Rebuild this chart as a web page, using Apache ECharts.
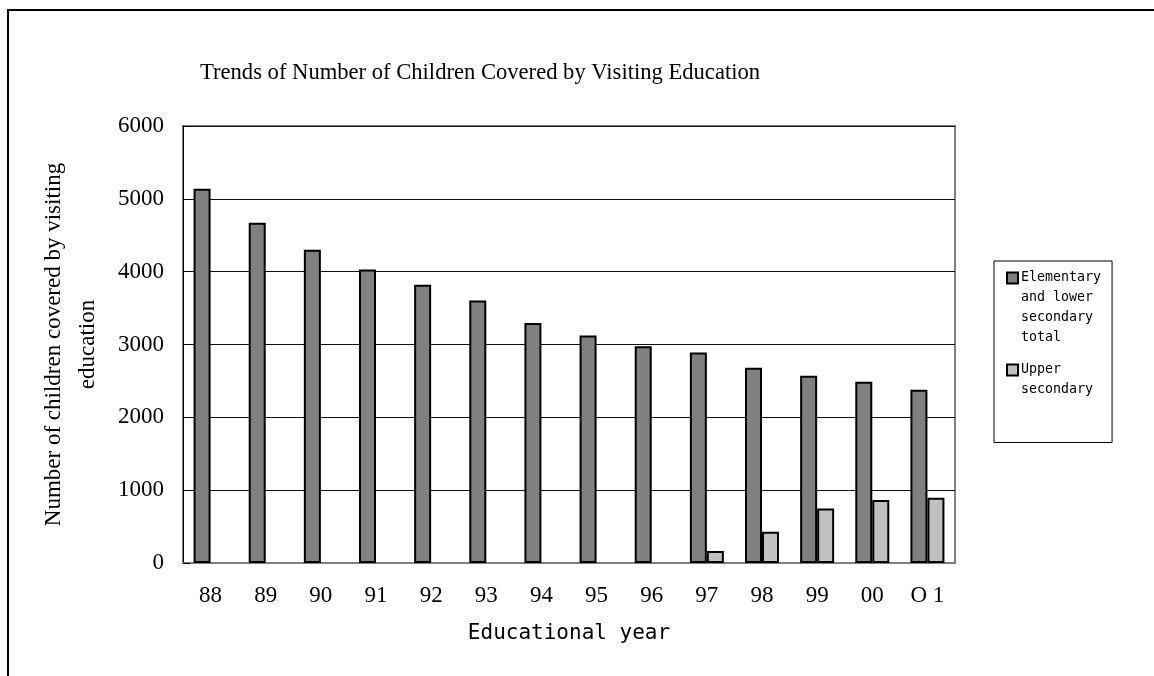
<!DOCTYPE html>
<html>
<head>
<meta charset="utf-8">
<script src="https://cdn.jsdelivr.net/npm/echarts@6/dist/echarts.min.js"></script>
<style>
  html, body { margin: 0; padding: 0; background: #fff; }
  #chart { width: 1154px; height: 676px; }
</style>
</head>
<body>
<div id="chart"></div>
<script>
// School years (two-digit) on the category axis
const years = ['88', '89', '90', '91', '92', '93', '94', '95', '96', '97', '98', '99', '00', 'O 1'];

// Children covered by visiting education, per school level
const elementaryLowerTotal = [5140, 4670, 4300, 4030, 3820, 3605, 3295, 3125, 2975, 2890, 2680, 2570, 2490, 2380];
const upperSecondary = [null, null, null, null, null, null, null, null, null, 165, 430, 750, 865, 895];

const seriesNames = ['Elementary and lower secondary total', 'Upper secondary'];
const yTicks = { min: 0, max: 6000, interval: 1000 };

const serif = '"Liberation Serif", "Times New Roman", serif';
const mono = '"DejaVu Sans Mono", "Liberation Mono", monospace';

const chart = echarts.init(document.getElementById('chart'), null, { renderer: 'canvas' });

const legendBox = (fill) => ({
  width: 9, height: 9, lineHeight: 20,
  backgroundColor: fill, borderColor: '#000', borderWidth: 2
});
const legendText = { fontFamily: mono, fontSize: 13.3, lineHeight: 20, color: '#000' };

chart.setOption({
  animation: false,
  backgroundColor: '#fff',
  graphic: [{
    type: 'rect',
    shape: { x: 8, y: 10, width: 1200, height: 720 },
    style: { fill: 'none', stroke: '#000', lineWidth: 2 },
    silent: true
  }],
  title: {
    text: 'Trends of Number of Children Covered by Visiting Education',
    left: 200,
    top: 62,
    padding: 0,
    textStyle: { fontFamily: serif, fontSize: 22.6, fontWeight: 'normal', color: '#000' }
  },
  grid: {
    left: 183, right: 199, top: 126, bottom: 113,
    show: true, borderColor: '#808080', borderWidth: 2, backgroundColor: '#fff'
  },
  legend: {
    orient: 'vertical',
    left: 994, top: 261,
    padding: [10.5, 11, 46, 9],
    itemGap: 19,
    itemWidth: 0, itemHeight: 10,
    selectedMode: false,
    borderColor: '#000', borderWidth: 1,
    itemStyle: { color: 'rgba(0,0,0,0)', borderWidth: 0, opacity: 0 },
    data: seriesNames,
    formatter: (name) => name === seriesNames[0]
      ? '{b1|}{sp|}{t|Elementary}\n{ind|}{t|and lower}\n{ind|}{t|secondary}\n{ind|}{t|total}'
      : '{b2|}{sp|}{t|Upper}\n{ind|}{t|secondary}',
    textStyle: {
      rich: {
        b1: legendBox('#808080'),
        b2: legendBox('#c0c0c0'),
        sp: { width: 4, lineHeight: 20 },
        ind: { width: 13, lineHeight: 20 },
        t: legendText
      }
    }
  },
  xAxis: {
    type: 'category',
    data: years,
    name: 'Educational year',
    nameLocation: 'middle',
    nameGap: 60,
    nameTextStyle: { fontFamily: mono, fontSize: 21, color: '#000' },
    axisLine: { lineStyle: { color: '#808080', width: 2 } },
    axisTick: { inside: true, length: 6, lineStyle: { color: '#555', width: 1 } },
    axisLabel: { interval: 0, margin: 21, fontFamily: serif, fontSize: 23, color: '#000' }
  },
  yAxis: {
    type: 'value',
    min: yTicks.min, max: yTicks.max, interval: yTicks.interval,
    name: 'Number of children covered by visiting\neducation',
    nameLocation: 'middle',
    nameGap: 78,
    nameTextStyle: { fontFamily: serif, fontSize: 23, color: '#000', lineHeight: 34, align: 'center' },
    axisLine: { show: true, lineStyle: { color: '#000', width: 1 } },
    axisTick: { show: true, inside: true, length: 7, lineStyle: { color: '#000' } },
    axisLabel: {
      margin: 19, fontFamily: serif, fontSize: 23, color: '#000',
      formatter: (v) => String(v)
    },
    splitLine: { lineStyle: { color: '#111', width: 1 } }
  },
  series: [
    {
      name: seriesNames[0],
      type: 'bar',
      data: elementaryLowerTotal,
      barWidth: 17,
      barGap: '0%',
      itemStyle: { color: '#808080', borderColor: '#000', borderWidth: 2 }
    },
    {
      name: seriesNames[1],
      type: 'bar',
      data: upperSecondary,
      barWidth: 17,
      barGap: '0%',
      itemStyle: { color: '#c0c0c0', borderColor: '#000', borderWidth: 2 }
    }
  ]
});
</script>
</body>
</html>
